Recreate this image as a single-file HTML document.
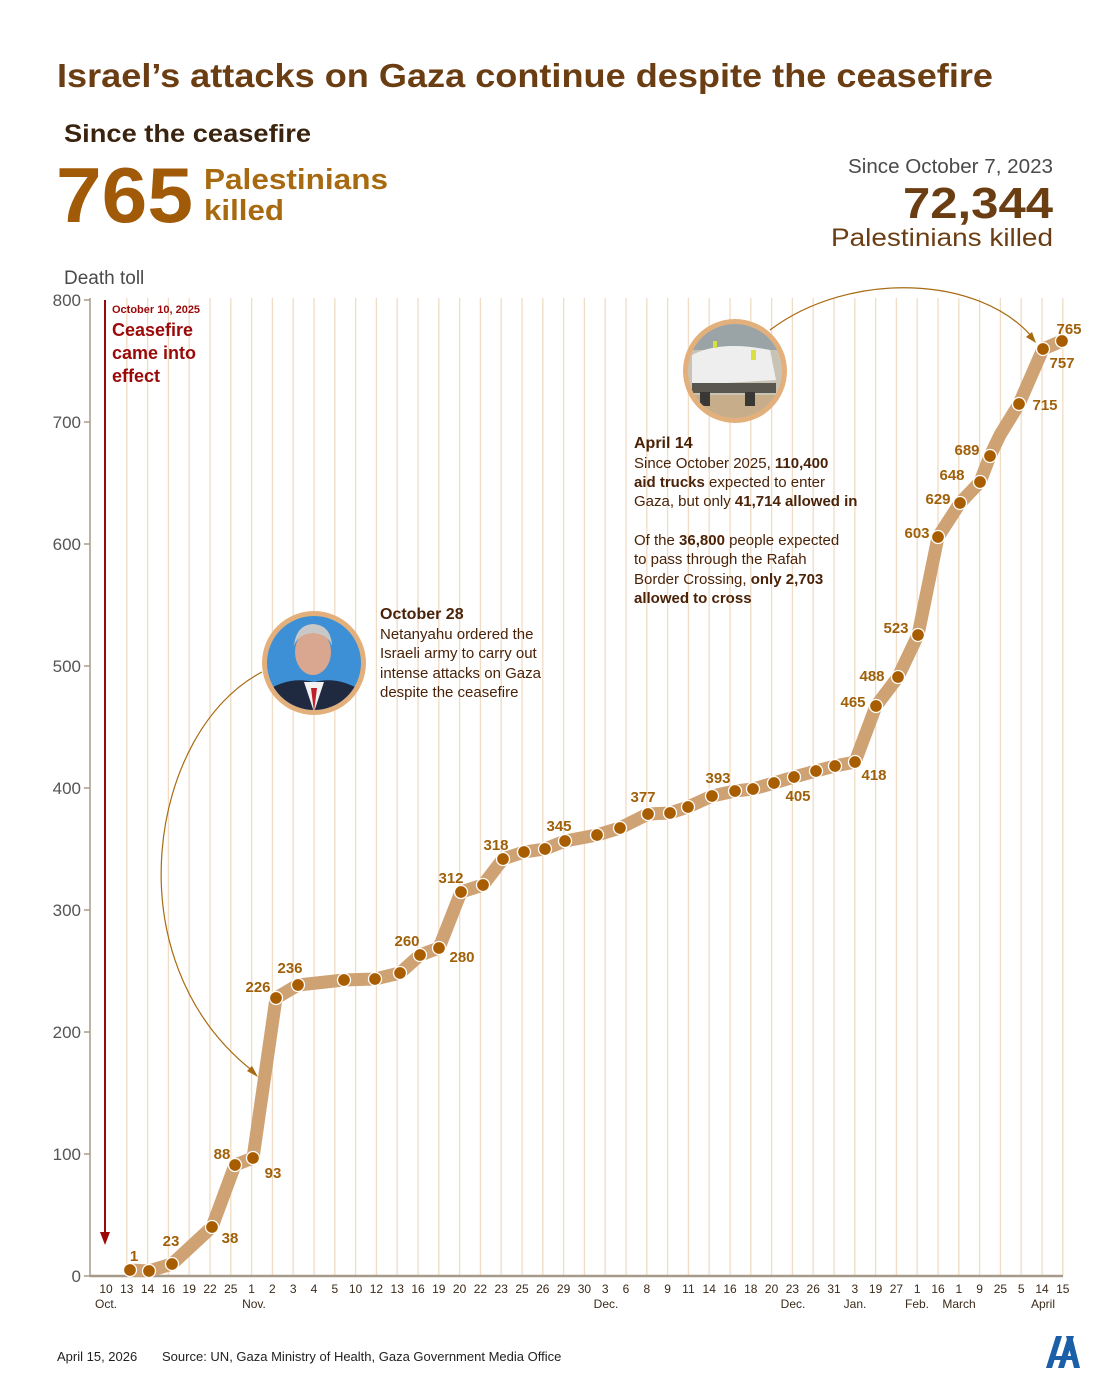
<!DOCTYPE html>
<html><head><meta charset="utf-8"><style>
html,body{margin:0;padding:0;background:#fff;}
svg{display:block;}
text{font-family:"Liberation Sans",sans-serif;}
</style></head><body>
<svg width="1120" height="1400" viewBox="0 0 1120 1400" xmlns="http://www.w3.org/2000/svg">
<rect width="1120" height="1400" fill="#fff"/>
<!-- header -->
<text x="57" y="87" font-size="33" font-weight="bold" fill="#6b3d12" textLength="936" lengthAdjust="spacingAndGlyphs">Israel’s attacks on Gaza continue despite the ceasefire</text>
<text x="64" y="142" font-size="25" font-weight="bold" fill="#3a2410" textLength="247" lengthAdjust="spacingAndGlyphs">Since the ceasefire</text>
<text x="56" y="222" font-size="78" font-weight="bold" fill="#a05a08" textLength="137" lengthAdjust="spacingAndGlyphs">765</text>
<text x="204" y="189" font-size="29" font-weight="bold" fill="#a86a10" textLength="184" lengthAdjust="spacingAndGlyphs">Palestinians</text>
<text x="204" y="220" font-size="29" font-weight="bold" fill="#a86a10" textLength="80" lengthAdjust="spacingAndGlyphs">killed</text>
<text x="1053" y="173" font-size="20" fill="#4a4a4a" text-anchor="end" textLength="205" lengthAdjust="spacingAndGlyphs">Since October 7, 2023</text>
<text x="1053" y="218" font-size="44" font-weight="bold" fill="#6b3d12" text-anchor="end" textLength="150" lengthAdjust="spacingAndGlyphs">72,344</text>
<text x="1053" y="246" font-size="25" fill="#6b3d12" text-anchor="end" textLength="222" lengthAdjust="spacingAndGlyphs">Palestinians killed</text>
<text x="64" y="284" font-size="19" fill="#4a4a4a">Death toll</text>

<!-- grid -->
<g stroke="#f0dcc4" stroke-width="1.3" id="grid">
<line x1="126.8" y1="298" x2="126.8" y2="1276"/><line x1="147.6" y1="298" x2="147.6" y2="1276"/><line x1="168.4" y1="298" x2="168.4" y2="1276"/><line x1="189.2" y1="298" x2="189.2" y2="1276"/><line x1="210" y1="298" x2="210" y2="1276"/><line x1="230.8" y1="298" x2="230.8" y2="1276"/><line x1="251.6" y1="298" x2="251.6" y2="1276"/><line x1="272.4" y1="298" x2="272.4" y2="1276"/><line x1="293.2" y1="298" x2="293.2" y2="1276"/><line x1="314" y1="298" x2="314" y2="1276"/><line x1="334.8" y1="298" x2="334.8" y2="1276"/><line x1="355.6" y1="298" x2="355.6" y2="1276"/><line x1="376.4" y1="298" x2="376.4" y2="1276"/><line x1="397.2" y1="298" x2="397.2" y2="1276"/><line x1="418" y1="298" x2="418" y2="1276"/><line x1="438.8" y1="298" x2="438.8" y2="1276"/><line x1="459.6" y1="298" x2="459.6" y2="1276"/><line x1="480.4" y1="298" x2="480.4" y2="1276"/><line x1="501.2" y1="298" x2="501.2" y2="1276"/><line x1="522" y1="298" x2="522" y2="1276"/><line x1="542.8" y1="298" x2="542.8" y2="1276"/><line x1="563.6" y1="298" x2="563.6" y2="1276"/><line x1="584.4" y1="298" x2="584.4" y2="1276"/><line x1="605.2" y1="298" x2="605.2" y2="1276"/><line x1="626" y1="298" x2="626" y2="1276"/><line x1="646.8" y1="298" x2="646.8" y2="1276"/><line x1="667.6" y1="298" x2="667.6" y2="1276"/><line x1="688.4" y1="298" x2="688.4" y2="1276"/><line x1="709.2" y1="298" x2="709.2" y2="1276"/><line x1="730" y1="298" x2="730" y2="1276"/><line x1="750.8" y1="298" x2="750.8" y2="1276"/><line x1="771.6" y1="298" x2="771.6" y2="1276"/><line x1="792.4" y1="298" x2="792.4" y2="1276"/><line x1="813.2" y1="298" x2="813.2" y2="1276"/><line x1="834" y1="298" x2="834" y2="1276"/><line x1="854.8" y1="298" x2="854.8" y2="1276"/><line x1="875.6" y1="298" x2="875.6" y2="1276"/><line x1="896.4" y1="298" x2="896.4" y2="1276"/><line x1="917.2" y1="298" x2="917.2" y2="1276"/><line x1="938" y1="298" x2="938" y2="1276"/><line x1="958.8" y1="298" x2="958.8" y2="1276"/><line x1="979.6" y1="298" x2="979.6" y2="1276"/><line x1="1000.4" y1="298" x2="1000.4" y2="1276"/><line x1="1021.2" y1="298" x2="1021.2" y2="1276"/><line x1="1042" y1="298" x2="1042" y2="1276"/><line x1="1062.8" y1="298" x2="1062.8" y2="1276"/>
</g>
<!-- axes -->
<line x1="90" y1="298" x2="90" y2="1277" stroke="#a89a8a" stroke-width="1.5"/>
<line x1="90" y1="1276" x2="1063" y2="1276" stroke="#a89a8a" stroke-width="2.5"/>
<g stroke="#a89a8a" stroke-width="1.5">
<line x1="84" y1="1276" x2="90" y2="1276"/><line x1="84" y1="1154" x2="90" y2="1154"/><line x1="84" y1="1032" x2="90" y2="1032"/><line x1="84" y1="910" x2="90" y2="910"/><line x1="84" y1="788" x2="90" y2="788"/><line x1="84" y1="666" x2="90" y2="666"/><line x1="84" y1="544" x2="90" y2="544"/><line x1="84" y1="422" x2="90" y2="422"/><line x1="84" y1="300" x2="90" y2="300"/>
</g>
<g font-size="17" fill="#555" text-anchor="end">
<text x="81" y="1282">0</text><text x="81" y="1160">100</text><text x="81" y="1038">200</text><text x="81" y="916">300</text><text x="81" y="794">400</text><text x="81" y="672">500</text><text x="81" y="550">600</text><text x="81" y="428">700</text><text x="81" y="306">800</text>
</g>
<!-- x labels -->
<g font-size="12" fill="#3a2a1a" text-anchor="middle">
<text x="106" y="1293">10</text><text x="126.8" y="1293">13</text><text x="147.6" y="1293">14</text><text x="168.4" y="1293">16</text><text x="189.2" y="1293">19</text><text x="210" y="1293">22</text><text x="230.8" y="1293">25</text><text x="251.6" y="1293">1</text><text x="272.4" y="1293">2</text><text x="293.2" y="1293">3</text><text x="314" y="1293">4</text><text x="334.8" y="1293">5</text><text x="355.6" y="1293">10</text><text x="376.4" y="1293">12</text><text x="397.2" y="1293">13</text><text x="418" y="1293">16</text><text x="438.8" y="1293">19</text><text x="459.6" y="1293">20</text><text x="480.4" y="1293">22</text><text x="501.2" y="1293">23</text><text x="522" y="1293">25</text><text x="542.8" y="1293">26</text><text x="563.6" y="1293">29</text><text x="584.4" y="1293">30</text><text x="605.2" y="1293">3</text><text x="626" y="1293">6</text><text x="646.8" y="1293">8</text><text x="667.6" y="1293">9</text><text x="688.4" y="1293">11</text><text x="709.2" y="1293">14</text><text x="730" y="1293">16</text><text x="750.8" y="1293">18</text><text x="771.6" y="1293">20</text><text x="792.4" y="1293">23</text><text x="813.2" y="1293">26</text><text x="834" y="1293">31</text><text x="854.8" y="1293">3</text><text x="875.6" y="1293">19</text><text x="896.4" y="1293">27</text><text x="917.2" y="1293">1</text><text x="938" y="1293">16</text><text x="958.8" y="1293">1</text><text x="979.6" y="1293">9</text><text x="1000.4" y="1293">25</text><text x="1021.2" y="1293">5</text><text x="1042" y="1293">14</text><text x="1062.8" y="1293">15</text>
<text x="106" y="1308">Oct.</text><text x="254" y="1308">Nov.</text><text x="606" y="1308">Dec.</text><text x="793" y="1308">Dec.</text><text x="855" y="1308">Jan.</text><text x="917" y="1308">Feb.</text><text x="959" y="1308">March</text><text x="1043" y="1308">April</text>
</g>

<!-- ceasefire arrow -->
<line x1="105" y1="300" x2="105" y2="1235" stroke="#9a0a0a" stroke-width="2"/>
<polygon points="100,1232 110,1232 105,1245" fill="#9a0a0a"/>
<text x="112" y="313" font-size="11" font-weight="bold" fill="#9a0a0a">October 10, 2025</text>
<g font-size="18" font-weight="bold" fill="#9a0a0a">
<text x="112" y="336">Ceasefire</text><text x="112" y="359">came into</text><text x="112" y="382">effect</text>
</g>

<!-- series -->
<polyline fill="none" stroke="#cfa274" stroke-width="13" stroke-linejoin="round" stroke-linecap="round"
points="130,1270 149,1271 172,1264 212,1227 235,1165 253,1158 276,998 298,985 344,980 375,979 400,973 420,955 439,948 461,892 483,885 503,859 524,852 545,849 565,841 597,835 620,828 648,814 670,813 688,807 712,796 735,791 753,789 774,783 794,777 816,771 835,766 855,762 876,706 898,677 918,635 938,537 960,503 980,482 990,456 1000,435 1019,404 1043,349 1062,341"/>
<g fill="#a85e00" stroke="#fff" stroke-width="1.3">
<circle cx="130" cy="1270" r="6.5"/><circle cx="149" cy="1271" r="6.5"/><circle cx="172" cy="1264" r="6.5"/><circle cx="212" cy="1227" r="6.5"/><circle cx="235" cy="1165" r="6.5"/><circle cx="253" cy="1158" r="6.5"/><circle cx="276" cy="998" r="6.5"/><circle cx="298" cy="985" r="6.5"/><circle cx="344" cy="980" r="6.5"/><circle cx="375" cy="979" r="6.5"/><circle cx="400" cy="973" r="6.5"/><circle cx="420" cy="955" r="6.5"/><circle cx="439" cy="948" r="6.5"/><circle cx="461" cy="892" r="6.5"/><circle cx="483" cy="885" r="6.5"/><circle cx="503" cy="859" r="6.5"/><circle cx="524" cy="852" r="6.5"/><circle cx="545" cy="849" r="6.5"/><circle cx="565" cy="841" r="6.5"/><circle cx="597" cy="835" r="6.5"/><circle cx="620" cy="828" r="6.5"/><circle cx="648" cy="814" r="6.5"/><circle cx="670" cy="813" r="6.5"/><circle cx="688" cy="807" r="6.5"/><circle cx="712" cy="796" r="6.5"/><circle cx="735" cy="791" r="6.5"/><circle cx="753" cy="789" r="6.5"/><circle cx="774" cy="783" r="6.5"/><circle cx="794" cy="777" r="6.5"/><circle cx="816" cy="771" r="6.5"/><circle cx="835" cy="766" r="6.5"/><circle cx="855" cy="762" r="6.5"/><circle cx="876" cy="706" r="6.5"/><circle cx="898" cy="677" r="6.5"/><circle cx="918" cy="635" r="6.5"/><circle cx="938" cy="537" r="6.5"/><circle cx="960" cy="503" r="6.5"/><circle cx="980" cy="482" r="6.5"/><circle cx="990" cy="456" r="6.5"/><circle cx="1019" cy="404" r="6.5"/><circle cx="1043" cy="349" r="6.5"/><circle cx="1062" cy="341" r="6.5"/>
</g>
<g font-size="15" font-weight="bold" fill="#a0600a" text-anchor="middle">
<text x="134" y="1261">1</text><text x="171" y="1246">23</text><text x="230" y="1243">38</text><text x="222" y="1159">88</text><text x="273" y="1178">93</text><text x="258" y="992">226</text><text x="290" y="973">236</text><text x="407" y="946">260</text><text x="462" y="962">280</text><text x="451" y="883">312</text><text x="496" y="850">318</text><text x="559" y="831">345</text><text x="643" y="802">377</text><text x="718" y="783">393</text><text x="798" y="801">405</text><text x="874" y="780">418</text><text x="853" y="707">465</text><text x="872" y="681">488</text><text x="896" y="633">523</text><text x="917" y="538">603</text><text x="938" y="504">629</text><text x="952" y="480">648</text><text x="967" y="455">689</text><text x="1045" y="410">715</text><text x="1062" y="368">757</text><text x="1069" y="334">765</text>
</g>

<!-- curved arrows -->
<path d="M262,672 C150,730 110,960 254,1072" fill="none" stroke="#a86a10" stroke-width="1.2"/>
<polygon points="258,1077 247,1071 252,1066" fill="#a86a10"/>
<path d="M770,330 C850,270 980,275 1033,338" fill="none" stroke="#a86a10" stroke-width="1.2"/>
<polygon points="1036,343 1026,337 1032,332" fill="#a86a10"/>

<!-- photo 1 -->
<defs>
<clipPath id="c1"><circle cx="314" cy="663" r="47"/></clipPath>
<clipPath id="c2"><circle cx="735" cy="371" r="47"/></clipPath>
</defs>
<circle cx="314" cy="663" r="52" fill="#e3b07c"/>
<g clip-path="url(#c1)">
<rect x="260" y="610" width="110" height="110" fill="#3d8fd6"/>
<path d="M262,720 L268,690 Q290,676 314,682 Q338,676 360,690 L366,720 Z" fill="#1f2a40"/>
<path d="M304,682 L314,712 L324,682 Z" fill="#f2f2f2"/>
<path d="M311,688 L314,712 L317,688 Z" fill="#c0202a"/>
<ellipse cx="313" cy="652" rx="18" ry="23" fill="#d9a78f"/>
<path d="M294,646 Q296,625 313,624 Q331,625 332,646 Q328,634 313,633 Q298,634 294,646Z" fill="#c8c8c8"/>
</g>
<!-- photo 2 -->
<circle cx="735" cy="371" r="52" fill="#e3b07c"/>
<g clip-path="url(#c2)">
<rect x="680" y="320" width="110" height="110" fill="#c9c3b6"/>
<rect x="680" y="320" width="110" height="30" fill="#9aa3a6"/>
<rect x="680" y="395" width="110" height="40" fill="#c7ad8a"/>
<path d="M692,355 Q720,340 770,350 L776,380 L692,385 Z" fill="#eeeeee"/>
<rect x="692" y="383" width="84" height="10" fill="#5a5650"/>
<rect x="700" y="392" width="10" height="14" fill="#3a3834"/><rect x="745" y="392" width="10" height="14" fill="#3a3834"/>
<rect x="751" y="350" width="5" height="10" fill="#d8e040"/>
<rect x="713" y="341" width="4" height="7" fill="#d8e040"/>
</g>

<!-- annotation text -->
<g font-size="15" fill="#4a2208">
<text x="380" y="619" font-weight="bold" font-size="16">October 28</text>
<text x="380" y="639">Netanyahu ordered the</text>
<text x="380" y="658">Israeli army to carry out</text>
<text x="380" y="678">intense attacks on Gaza</text>
<text x="380" y="697">despite the ceasefire</text>
<text x="634" y="448" font-weight="bold" font-size="16">April 14</text>
<text x="634" y="468">Since October 2025, <tspan font-weight="bold">110,400</tspan></text>
<text x="634" y="487"><tspan font-weight="bold">aid trucks</tspan> expected to enter</text>
<text x="634" y="506">Gaza, but only <tspan font-weight="bold">41,714 allowed in</tspan></text>
<text x="634" y="545">Of the <tspan font-weight="bold">36,800</tspan> people expected</text>
<text x="634" y="564">to pass through the Rafah</text>
<text x="634" y="584">Border Crossing, <tspan font-weight="bold">only 2,703</tspan></text>
<text x="634" y="603" font-weight="bold">allowed to cross</text>
</g>

<!-- footer -->
<text x="57" y="1361" font-size="13" fill="#222">April 15, 2026</text>
<text x="162" y="1361" font-size="13" fill="#222">Source: UN, Gaza Ministry of Health, Gaza Government Media Office</text>
<g fill="#1a5fa8">
<path d="M1046,1368 L1056,1336 L1062,1336 L1052,1368 Z"/>
<path d="M1058,1368 L1068,1336 L1074,1336 L1064,1368 Z"/>
<path d="M1066,1336 L1072,1336 L1080,1368 L1074,1368 Z"/>
<rect x="1050" y="1356" width="26" height="4"/>
</g>
</svg>
</body></html>
